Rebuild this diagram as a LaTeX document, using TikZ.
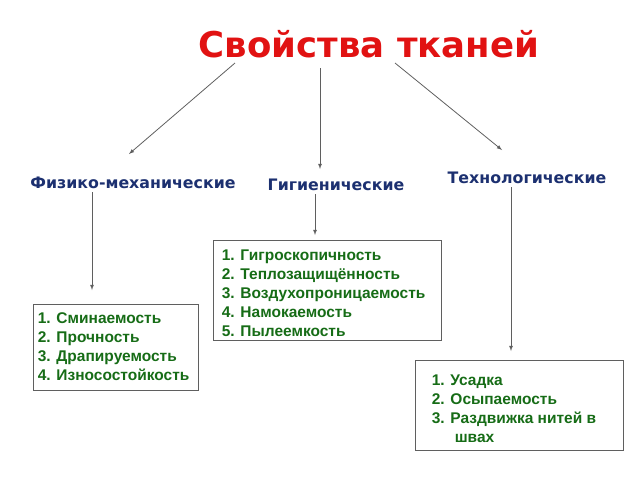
\documentclass[tikz,border=0pt]{standalone}
\usepackage{fontspec}
\setmainfont{Liberation Sans}
\newfontfamily\dejavu{DejaVu Sans}
\usetikzlibrary{arrows}
\usetikzlibrary{positioning}

\definecolor{titlered}{RGB}{225,18,18}
\definecolor{headblue}{RGB}{28,48,112}
\definecolor{listgreen}{RGB}{22,108,22}
\definecolor{linegray}{RGB}{95,95,95}

\begin{document}
\begin{tikzpicture}[x=1pt, y=-1pt,
    head/.style={text=headblue, inner sep=0pt, font=\dejavu\bfseries\fontsize{15.8}{17}\selectfont},
    boxframe/.style={draw=linegray, line width=0.8pt, inner sep=0pt},
    listtext/.style={text=listgreen, align=left, inner sep=0pt, font=\bfseries\fontsize{15.5}{19}\selectfont},
    link/.style={-latex, draw=linegray, line width=0.8pt}]

  \useasboundingbox (0,0) rectangle (640,480);

  % title
  \node[text=titlered, inner sep=0pt, font=\dejavu\bfseries\fontsize{35.5}{40}\selectfont] (title) at (369,44) {Свойства тканей};

  % the three groups
  \node[head] (fiz) at (133,183) {Физико-механические};
  \node[head] (gig) at (336,185) {Гигиенические};
  \node[head] (tech) at (527,178) {Технологические};

  % boxes
  \node[boxframe, minimum width=165, minimum height=86] (fizbox) at (115.5,347) {};
  \node[boxframe, minimum width=228, minimum height=100] (gigbox) at (327,290) {};
  \node[boxframe, minimum width=208, minimum height=90] (techbox) at (519,405) {};

  \node[listtext, right=5pt of fizbox.west] (fiztext) {1. Сминаемость\\2. Прочность\\3. Драпируемость\\4. Износостойкость};
  \node[listtext, right=9pt of gigbox.west, yshift=-3pt] (gigtext) {1. Гигроскопичность\\2. Теплозащищённость\\3. Воздухопроницаемость\\4. Намокаемость\\5. Пылеемкость};
  \node[listtext, right=17pt of techbox.west, yshift=-4pt] (techtext) {1. Усадка\\2. Осыпаемость\\3. Раздвижка нитей в\\\hspace*{23pt}швах};

  % arrows from the title
  \coordinate (tl) at (235,63);
  \coordinate (tm) at (320,68);
  \coordinate (tr) at (395,63);
  \coordinate (fizin) at (129,154);
  \coordinate (gigin) at (320,169);
  \coordinate (techin) at (502,150);
  \draw[link] (tl) -- (fizin);
  \draw[link] (tm) -- (gigin);
  \draw[link] (tr) -- (techin);

  % arrows down to the boxes
  \coordinate (fizend) at (92,290);
  \coordinate (gigend) at (315,235);
  \coordinate (techend) at (511,351);
  \draw[link, shorten <=3pt] (fiz.south -| fizend) -- (fizend);
  \draw[link, shorten <=3pt] (gig.south -| gigend) -- (gigend);
  \draw[link, shorten <=3pt] (tech.south -| techend) -- (techend);

\end{tikzpicture}
\end{document}
